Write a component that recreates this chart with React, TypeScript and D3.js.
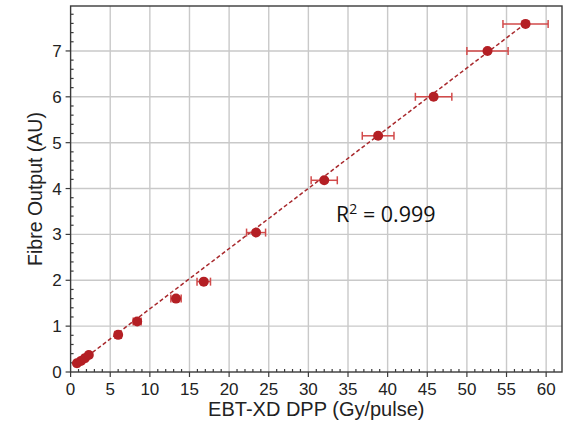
import React from "react";
import * as d3 from "d3";

// measured doses (Gy/pulse), fibre output and dose uncertainty
const doseValues = [0.8, 1.3, 1.8, 2.3, 6.0, 8.4, 13.3, 16.8, 23.4, 32.0, 38.8, 45.8, 52.6, 57.4];
const outputValues = [0.19, 0.24, 0.3, 0.37, 0.81, 1.1, 1.6, 1.97, 3.04, 4.18, 5.15, 6.0, 7.0, 7.59];
const doseErrors = [0.3, 0.3, 0.3, 0.3, 0.4, 0.5, 0.65, 0.85, 1.2, 1.65, 2.0, 2.3, 2.6, 2.85];

// linear fit end points
const fitX = [0.8, 57.4];
const fitY = [0.17, 7.6];

const xTicks = [0, 5, 10, 15, 20, 25, 30, 35, 40, 45, 50, 55, 60];
const yTicks = [0, 1, 2, 3, 4, 5, 6, 7];

const width = 566;
const height = 424;
const margin = { top: 6, right: 4, bottom: 52, left: 70.6 };

const font = "'Liberation Sans', Arial, sans-serif";
const dotColor = "#b41f24";
const barColor = "#d24a4a";
const lineColor = "#a8282c";

export default function App() {
  const x = d3.scaleLinear().domain([0, 62]).range([margin.left, width - margin.right]);
  const y = d3.scaleLinear().domain([0, 7.98]).range([height - margin.bottom, margin.top]);

  const xMinor = d3.range(1, 62, 1).filter((v) => v % 5 !== 0);
  const yMinor = d3.range(0.2, 7.98, 0.2).filter((v) => Math.abs(v - Math.round(v)) > 0.01);

  const fitLine = d3.line<number>()
    .x((_, i) => x(fitX[i]))
    .y((_, i) => y(fitY[i]));

  const x0 = x(0);
  const y0 = y(0);
  const x1 = width - margin.right;
  const y1 = margin.top;

  return (
    <svg width={width} height={height} style={{ position: "absolute", left: 0, top: 0 }}>
      <rect x={0} y={0} width={width} height={height} fill="#fff" />

      {/* grid */}
      <g stroke="#c9c9c9" strokeWidth={1.4}>
        {xTicks.filter((t) => t > 0).map((t) => (
          <line key={"gx" + t} x1={x(t)} x2={x(t)} y1={y0} y2={y1} />
        ))}
        {yTicks.filter((t) => t > 0).map((t) => (
          <line key={"gy" + t} x1={x0} x2={x1} y1={y(t)} y2={y(t)} />
        ))}
      </g>

      {/* frame */}
      <rect x={x0} y={y1} width={x1 - x0} height={y0 - y1} fill="none" stroke="#3a3a3a" strokeWidth={1.4} />

      {/* ticks */}
      <g stroke="#3a3a3a" strokeWidth={1.2}>
        {xTicks.map((t) => (
          <line key={"tx" + t} x1={x(t)} x2={x(t)} y1={y0} y2={y0 + 5} />
        ))}
        {xMinor.map((t) => (
          <line key={"mx" + t} x1={x(t)} x2={x(t)} y1={y0} y2={y0 - 3} />
        ))}
        {yTicks.map((t) => (
          <line key={"ty" + t} x1={x0 - 5} x2={x0} y1={y(t)} y2={y(t)} />
        ))}
        {yMinor.map((t) => (
          <line key={"my" + t} x1={x0} x2={x0 + 3} y1={y(t)} y2={y(t)} />
        ))}
      </g>

      {/* tick labels */}
      <g fontFamily={font} fontSize={17} fill="#222">
        {xTicks.map((t) => (
          <text key={"lx" + t} x={x(t)} y={y0 + 22.5} textAnchor="middle">{t}</text>
        ))}
        {yTicks.map((t) => (
          <text key={"ly" + t} x={x0 - 9} y={y(t) + 6} textAnchor="end">{t}</text>
        ))}
      </g>

      {/* axis titles */}
      <text x={(x0 + x1) / 2} y={416} textAnchor="middle" fontFamily={font} fontSize={20} fill="#222">
        EBT-XD DPP (Gy/pulse)
      </text>
      <text
        transform={`translate(42, ${(y0 + y1) / 2}) rotate(-90)`}
        textAnchor="middle"
        fontFamily={font}
        fontSize={19.5}
        fill="#222"
      >
        Fibre Output (AU)
      </text>

      {/* fit line */}
      <path d={fitLine(fitX) || ""} fill="none" stroke={lineColor} strokeWidth={1.5} strokeDasharray="4,2.5" />

      {/* error bars */}
      <g stroke={barColor} strokeWidth={1.5}>
        {doseValues.map((d, i) => {
          const yy = y(outputValues[i]);
          const xl = x(d - doseErrors[i]);
          const xr = x(d + doseErrors[i]);
          return (
            <g key={"e" + i}>
              <line x1={xl} x2={xr} y1={yy} y2={yy} />
              <line x1={xl} x2={xl} y1={yy - 4} y2={yy + 4} />
              <line x1={xr} x2={xr} y1={yy - 4} y2={yy + 4} />
            </g>
          );
        })}
      </g>

      {/* points */}
      <g fill={dotColor}>
        {doseValues.map((d, i) => (
          <circle key={"p" + i} cx={x(d)} cy={y(outputValues[i])} r={5} />
        ))}
      </g>

      {/* R squared */}
      <text x={336} y={222} fontFamily="'Open Sans', 'Noto Sans', sans-serif" fontSize={21.5} fill="#111">
        R<tspan dy={-8} fontSize={14}>2</tspan>
        <tspan dy={8}> = 0.999</tspan>
      </text>
    </svg>
  );
}
